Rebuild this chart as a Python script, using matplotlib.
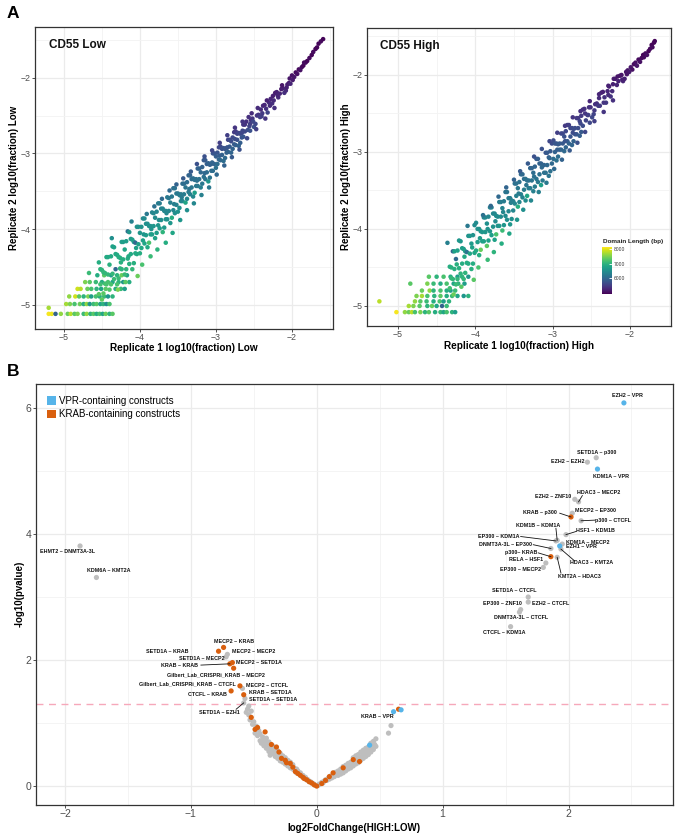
import matplotlib
matplotlib.use("Agg")
import matplotlib.pyplot as plt
from matplotlib.patches import Patch
from matplotlib.ticker import MultipleLocator
import numpy as np

plt.rcParams['font.family'] = ['Liberation Sans', 'DejaVu Sans']

# ---------------- Panel A data: CD55 Low ----------------
low_x = [
    -5.20,-5.16,-5.11,-5.04,-4.95,-4.91,-4.86,-4.82,-4.74,-4.70,-4.65,-4.61,-4.57,-4.53,-4.49,-4.45,-4.40,-4.36,
    -5.20,
    -4.97,-4.92,-4.86,-4.79,-4.74,-4.70,-4.66,-4.61,-4.57,-4.52,-4.48,-4.44,-4.40,
    -4.93,-4.85,-4.80,-4.74,-4.68,-4.64,-4.58,-4.53,-4.47,-4.42,-4.36,
    -4.82,-4.78,-4.69,-4.64,-4.57,-4.51,-4.45,-4.32,-4.25,-4.20,
    -4.72,-4.66,-4.58,-4.50,-4.42,-4.36,-4.28,-4.22,-4.14,
    -4.67,-4.56,-4.47,-4.38,-4.30,-4.24,-4.17,
    -4.54,-4.54,-4.52,-4.52,-4.50,-4.50,-4.48,-4.48,-4.46,-4.46,
    -4.44,-4.44,-4.42,-4.42,-4.40,-4.40,-4.38,-4.38,-4.36,-4.36,
    -4.34,-4.34,-4.32,-4.32,-4.30,-4.30,-4.28,-4.28,-4.26,-4.26,
    -4.24,-4.24,-4.22,-4.22,-4.20,-4.20,-4.18,-4.18,-4.16,-4.16,
    -4.14,-4.14,-4.12,-4.12,-4.10,-4.10,-4.08,-4.08,-4.06,-4.06,
    -4.04,-4.04,-4.02,-4.02,
    -4.00,-4.00,-3.98,-3.98,-3.96,-3.96,-3.94,-3.94,-3.92,-3.92,
    -3.90,-3.90,-3.88,-3.88,-3.86,-3.86,-3.84,-3.84,-3.82,-3.82,
    -3.80,-3.80,-3.78,-3.78,-3.76,-3.76,-3.74,-3.74,-3.72,-3.72,
    -3.70,-3.70,-3.68,-3.68,-3.66,-3.66,-3.64,-3.64,-3.62,-3.62,
    -3.60,-3.60,-3.58,-3.58,-3.56,-3.56,-3.54,-3.54,-3.52,-3.52,
    -3.50,-3.50,-3.48,-3.48,-3.46,-3.46,-3.44,-3.44,-3.42,-3.42,
    -3.40,-3.40,-3.38,-3.38,-3.36,-3.36,-3.34,-3.34,-3.32,-3.32,
    -3.30,-3.30,-3.28,-3.28,-3.26,-3.26,-3.24,-3.24,-3.22,-3.22,
    -3.20,-3.20,-3.18,-3.18,-3.16,-3.16,-3.14,-3.14,-3.12,-3.12,
    -3.10,-3.10,-3.08,-3.08,-3.06,-3.06,-3.04,-3.04,-3.02,-3.02,
    -3.00,-3.00,-2.98,-2.98,-2.96,-2.96,-2.94,-2.94,-2.92,-2.92,
    -2.90,-2.90,-2.88,-2.88,-2.86,-2.86,-2.84,-2.84,-2.82,-2.82,
    -2.80,-2.80,-2.78,-2.78,-2.76,-2.76,-2.74,-2.74,-2.72,-2.72,
    -2.70,-2.70,-2.68,-2.68,-2.66,-2.66,-2.64,-2.64,-2.62,-2.62,
    -2.60,-2.58,-2.56,-2.54,-2.52,-2.50,-2.48,-2.46,-2.44,-2.42,
    -2.40,-2.38,-2.36,-2.34,-2.32,-2.30,-2.57,-2.51,-2.45,-2.39,
    -2.33,-2.55,
    -2.28,-2.26,-2.24,-2.22,-2.20,-2.18,-2.16,-2.14,-2.12,-2.10,
    -2.08,-2.06,-2.04,-2.02,-2.25,-2.19,-2.13,-2.07,-2.03,
    -2.00,-1.99,-1.97,-1.95,-1.93,-1.91,-1.89,-1.87,-1.85,-1.84,
    -1.82,-1.80,-1.77,-1.74,-1.72,-1.69,-1.67,-1.65,-1.62,-1.59,
    -4.37,-4.29,-4.19,-4.11,-4.03,-3.97,-3.91,-3.86,-3.81,-3.77,
    -3.71,-3.66,-3.61,-3.57,-3.52,-3.47,-3.43,-3.38,-3.33,-3.29,
    -3.25,-3.19,-3.15,-3.09,-3.05,-2.99,-2.95,-2.89,-2.85,-2.79,
    -2.75,-2.69,-2.65,-2.59,-2.53,-2.47,-2.41,-2.35,-2.29,-2.23,
    -4.25,-4.15,-4.05,-3.95,-3.85,-3.75,-3.65,-3.55,-3.45,-3.35,
    -3.25,-3.15,-3.05,-2.95,-2.85,-2.75,-2.65,-2.55,
]
low_y = [
    -5.12,-5.12,-5.12,-5.12,-5.12,-5.12,-5.12,-5.12,-5.12,-5.12,-5.12,-5.12,-5.12,-5.12,-5.12,-5.12,-5.12,-5.12,
    -5.04,
    -4.99,-4.99,-4.99,-4.99,-4.99,-4.99,-4.99,-4.99,-4.99,-4.99,-4.99,-4.99,-4.99,
    -4.89,-4.89,-4.89,-4.89,-4.89,-4.89,-4.89,-4.89,-4.89,-4.89,-4.89,
    -4.79,-4.79,-4.79,-4.79,-4.79,-4.79,-4.79,-4.79,-4.79,-4.79,
    -4.70,-4.70,-4.70,-4.70,-4.70,-4.70,-4.70,-4.70,-4.70,
    -4.58,-4.61,-4.61,-4.61,-4.61,-4.61,-4.61,
    -4.44,-4.86,-4.73,-4.53,-4.54,-4.93,-4.85,-4.57,-4.58,-4.72,
    -4.73,-4.37,-4.37,-4.60,-4.80,-4.47,-4.36,-4.73,-4.59,-4.23,
    -4.24,-4.66,-4.53,-4.33,-4.34,-4.73,-4.65,-4.37,-4.38,-4.52,
    -4.53,-4.17,-4.17,-4.40,-4.60,-4.27,-4.16,-4.53,-4.39,-4.03,
    -4.04,-4.46,-4.33,-4.13,-4.14,-4.53,-4.45,-4.17,-4.18,-4.32,
    -4.33,-3.97,-3.97,-4.20,
    -4.32,-4.05,-3.97,-4.25,-4.15,-3.86,-3.86,-4.19,-4.08,-3.93,
    -3.93,-4.24,-4.18,-3.96,-3.96,-4.07,-4.07,-3.78,-3.79,-3.96,
    -4.12,-3.85,-3.77,-4.05,-3.95,-3.66,-3.66,-3.99,-3.88,-3.73,
    -3.73,-4.04,-3.98,-3.76,-3.76,-3.87,-3.87,-3.58,-3.59,-3.76,
    -3.92,-3.65,-3.57,-3.85,-3.75,-3.46,-3.46,-3.79,-3.68,-3.53,
    -3.53,-3.77,-3.72,-3.55,-3.54,-3.63,-3.63,-3.40,-3.40,-3.54,
    -3.65,-3.45,-3.38,-3.60,-3.51,-3.29,-3.29,-3.54,-3.45,-3.34,
    -3.33,-3.57,-3.52,-3.35,-3.34,-3.43,-3.43,-3.20,-3.20,-3.34,
    -3.45,-3.25,-3.18,-3.40,-3.31,-3.09,-3.09,-3.34,-3.25,-3.14,
    -3.13,-3.37,-3.32,-3.15,-3.14,-3.23,-3.23,-3.00,-3.00,-3.14,
    -3.19,-3.04,-2.99,-3.14,-3.08,-2.92,-2.91,-3.09,-3.02,-2.94,
    -2.93,-3.10,-3.06,-2.94,-2.93,-2.99,-2.98,-2.82,-2.82,-2.91,
    -2.99,-2.84,-2.79,-2.94,-2.88,-2.72,-2.71,-2.89,-2.82,-2.74,
    -2.73,-2.90,-2.86,-2.74,-2.73,-2.79,-2.78,-2.62,-2.62,-2.71,
    -2.58,-2.69,-2.64,-2.56,-2.54,-2.65,-2.61,-2.50,-2.49,-2.52,
    -2.51,-2.37,-2.36,-2.41,-2.46,-2.33,-2.52,-2.58,-2.40,-2.47,
    -2.30,-2.70,
    -2.28,-2.34,-2.30,-2.20,-2.19,-2.26,-2.21,-2.15,-2.14,-2.20,
    -2.17,-2.09,-2.07,-2.08,-2.24,-2.23,-2.10,-2.13,-2.01,
    -1.97,-2.03,-1.99,-1.93,-1.95,-1.89,-1.90,-1.86,-1.84,-1.80,
    -1.80,-1.78,-1.74,-1.70,-1.66,-1.62,-1.60,-1.55,-1.52,-1.49,
    -4.12,-4.80,-4.70,-3.90,-4.62,-4.47,-3.80,-4.36,-3.70,-4.27,
    -3.60,-4.18,-3.49,-4.05,-3.41,-3.88,-3.33,-3.75,-3.24,-3.66,
    -3.14,-3.55,-3.04,-3.45,-2.96,-3.28,-2.86,-3.16,-2.76,-3.05,
    -2.66,-2.95,-2.58,-2.80,-2.47,-2.68,-2.42,-2.54,-2.37,-2.40,
    -4.44,-4.36,-4.25,-4.07,-4.00,-3.88,-3.79,-3.67,-3.58,-3.47,
    -3.36,-3.26,-3.12,-3.03,-2.92,-2.81,-2.70,-2.61,
]
low_len = [
    8100,8050,5900,7600,7400,7800,7300,7500,7100,7600,7000,7300,6900,7200,6800,7400,7000,7300,
    7700,
    7700,7500,7200,7400,6900,7600,6600,7100,7300,6800,7000,6500,7200,
    7600,7900,7300,7000,7500,6700,7200,6900,7100,6600,7000,
    7900,7800,7400,7200,7000,6800,7300,6900,7100,6700,
    7500,7300,7100,6900,7200,6800,7000,6600,6900,
    7100,6900,7300,6700,7000,7400,6800,
    6900,7300,7150,7000,7000,7350,7300,7050,7050,7150,
    7200,6850,6850,7050,7250,6950,6850,7200,7050,6750,
    6750,7100,6000,6850,6850,7200,7100,6900,6900,7000,
    7000,6700,6700,6900,7100,6800,6700,7000,6900,6100,
    6600,6950,6850,6650,6700,7050,6950,6700,6000,6850,
    6850,6550,6550,6750,
    6900,6600,6550,6850,6750,6400,6450,6800,6700,6500,
    6500,6850,7200,6550,6550,6700,6700,6350,6400,6600,
    6750,6450,6400,6700,6600,6250,6250,6650,6500,6350,
    6350,7000,6650,6400,6400,6550,6550,6200,6200,6400,
    6600,6300,6200,6900,6400,6100,6100,6500,6350,6200,
    6200,6550,6500,6250,6250,6350,6400,6050,6050,6250,
    6800,6150,6050,6400,6250,5950,5950,6300,6200,6050,
    6050,6400,6700,6100,6100,6200,6200,5900,5900,6100,
    6300,6000,5900,6200,6100,5800,5800,6150,6050,5850,
    5900,6600,6150,5900,5900,6050,6050,5750,5750,5950,
    6100,5850,5750,6050,5950,5600,5600,6000,5900,5700,
    5700,6050,6000,5750,5750,5900,5900,5550,5600,5800,
    5950,5650,5600,5900,5800,5450,5450,5850,5700,5550,
    5550,5900,5850,5600,5600,5750,5750,5400,5400,5600,
    5350,5650,5550,5400,5400,5700,5600,5400,5400,5500,
    5500,5250,5250,5350,5550,5300,5350,5600,5300,5450,
    5200,5700,
    5250,5350,5300,5150,5200,5300,5250,5150,5200,5350,
    5300,5200,5150,5250,5200,5250,5100,5200,5100,
    5050,5150,5100,5000,5050,5000,5050,5000,4950,5000,
    5000,4950,5000,4950,5000,4950,4950,4950,5000,4950,
    6500,7500,7300,6300,7400,7200,6200,7100,6100,7000,
    6000,6900,6000,6800,5900,6600,5800,6500,5800,6400,
    5700,6300,5700,6200,5600,6000,5500,5900,5500,5800,
    5400,5700,5400,5600,5300,5500,5300,5400,5300,5350,
    6950,6850,6750,6600,6550,6450,6400,6300,6250,6150,
    6100,6000,5950,5850,5750,5650,5600,5500,
]

# ---------------- Panel A data: CD55 High ----------------
high_x = [
    -5.02,-4.91,-4.86,-4.82,-4.78,-4.71,-4.65,-4.60,-4.52,-4.45,-4.41,-4.37,-4.30,-4.26,
    -4.86,-4.80,-4.72,-4.62,-4.56,-4.50,-4.43,-4.37,
    -5.24,-4.78,-4.71,-4.63,-4.54,-4.46,-4.41,-4.34,
    -4.76,-4.69,-4.62,-4.53,-4.45,-4.37,-4.30,-4.23,-4.15,-4.09,
    -4.69,-4.59,-4.54,-4.45,-4.37,-4.32,-4.26,
    -4.84,-4.62,-4.54,-4.45,-4.37,-4.28,-4.22,-4.14,
    -4.60,-4.50,-4.41,-4.32,-4.23,-4.17,-4.09,
    -4.33,-4.33,-4.31,-4.31,-4.29,-4.29,-4.27,-4.27,-4.25,-4.25,
    -4.23,-4.23,-4.21,-4.21,-4.19,-4.19,-4.17,-4.17,-4.15,-4.15,
    -4.13,-4.13,-4.11,-4.11,-4.09,-4.09,-4.07,-4.07,-4.05,-4.05,
    -4.03,-4.03,-4.01,-4.01,
    -3.99,-3.99,-3.97,-3.97,-3.95,-3.95,-3.93,-3.93,-3.91,-3.91,
    -3.89,-3.89,-3.87,-3.87,-3.85,-3.85,-3.83,-3.83,-3.81,-3.81,
    -3.79,-3.79,-3.77,-3.77,-3.75,-3.75,-3.73,-3.73,-3.71,-3.71,
    -3.69,-3.69,-3.67,-3.67,-3.65,-3.65,-3.63,-3.63,-3.61,-3.61,
    -3.59,-3.59,-3.57,-3.57,-3.55,-3.55,-3.53,-3.53,-3.51,-3.51,
    -3.49,-3.49,-3.47,-3.47,-3.45,-3.45,-3.43,-3.43,-3.41,-3.41,
    -3.39,-3.39,-3.37,-3.37,-3.35,-3.35,-3.33,-3.33,-3.31,-3.31,
    -3.29,-3.29,-3.27,-3.27,-3.25,-3.25,-3.23,-3.23,-3.21,-3.21,
    -3.19,-3.19,-3.17,-3.17,-3.15,-3.15,-3.13,-3.13,-3.11,-3.11,
    -3.09,-3.09,-3.07,-3.07,-3.05,-3.05,-3.03,-3.03,-3.01,-3.01,
    -2.99,-2.99,-2.97,-2.97,-2.95,-2.95,-2.93,-2.93,-2.91,-2.91,
    -2.89,-2.89,-2.87,-2.87,-2.85,-2.85,-2.83,-2.83,-2.81,-2.81,
    -2.79,-2.79,-2.77,-2.77,-2.75,-2.75,-2.73,-2.73,-2.71,-2.71,
    -2.69,-2.69,-2.67,-2.67,-2.65,-2.65,-2.63,-2.63,-2.61,-2.61,
    -2.59,-2.57,-2.55,-2.53,-2.51,-2.49,-2.47,-2.45,-2.43,-2.41,
    -2.39,-2.37,-2.35,-2.33,-2.31,-2.29,-2.27,-2.25,-2.23,-2.21,
    -2.58,-2.52,-2.46,-2.40,-2.34,-2.28,-2.22,
    -2.19,-2.17,-2.15,-2.13,-2.11,-2.09,-2.07,-2.05,-2.03,-2.01,
    -2.16,-2.10,-2.04,
    -1.99,-1.97,-1.95,-1.93,-1.91,-1.89,-1.87,-1.85,-1.83,-1.82,
    -1.80,-1.78,-1.76,-1.74,-1.72,-1.71,-1.69,-1.68,
    -4.36,-4.28,-4.18,-4.10,-4.02,-3.96,-3.90,-3.84,-3.80,-3.76,
    -3.70,-3.66,-3.60,-3.56,-3.50,-3.46,-3.42,-3.38,-3.32,-3.28,
    -3.24,-3.18,-3.14,-3.08,-3.04,-2.98,-2.94,-2.88,-2.84,-2.78,
    -2.74,-2.68,-2.64,-2.58,-2.52,-2.46,-2.40,-2.34,-2.28,-2.22,
    -4.24,-4.14,-4.04,-3.94,-3.84,-3.74,-3.64,-3.54,-3.44,-3.34,
    -3.24,-3.14,-3.04,-2.94,-2.84,-2.74,-2.64,-2.54,
]
high_y = [
    -5.08,-5.08,-5.08,-5.08,-5.08,-5.08,-5.08,-5.08,-5.08,-5.08,-5.08,-5.08,-5.08,-5.08,
    -5.00,-5.00,-5.00,-5.00,-5.00,-5.00,-5.00,-5.00,
    -4.94,-4.94,-4.94,-4.94,-4.94,-4.94,-4.94,-4.94,
    -4.87,-4.87,-4.87,-4.87,-4.87,-4.87,-4.87,-4.87,-4.87,-4.87,
    -4.80,-4.80,-4.80,-4.80,-4.80,-4.80,-4.80,
    -4.71,-4.71,-4.71,-4.71,-4.71,-4.71,-4.71,-4.71,
    -4.62,-4.62,-4.62,-4.62,-4.62,-4.62,-4.62,
    -4.77,-4.49,-4.50,-4.64,-4.65,-4.29,-4.29,-4.52,-4.72,-4.39,
    -4.28,-4.65,-4.51,-4.15,-4.16,-4.58,-4.45,-4.25,-4.26,-4.65,
    -4.57,-4.29,-4.30,-4.44,-4.45,-4.09,-4.09,-4.32,-4.52,-4.19,
    -4.08,-4.45,-4.31,-3.95,
    -3.92,-4.28,-4.17,-4.00,-4.00,-4.34,-4.27,-4.03,-4.04,-4.16,
    -4.16,-3.85,-3.85,-4.04,-4.22,-3.93,-3.84,-4.15,-4.03,-3.72,
    -3.72,-4.08,-3.97,-3.80,-3.80,-4.14,-4.07,-3.83,-3.84,-3.96,
    -3.96,-3.65,-3.65,-3.84,-4.02,-3.73,-3.64,-3.95,-3.83,-3.52,
    -3.52,-3.88,-3.77,-3.60,-3.60,-3.94,-3.87,-3.63,-3.64,-3.76,
    -3.67,-3.41,-3.41,-3.57,-3.71,-3.47,-3.39,-3.65,-3.55,-3.29,
    -3.29,-3.59,-3.49,-3.35,-3.35,-3.63,-3.57,-3.37,-3.37,-3.47,
    -3.47,-3.21,-3.21,-3.37,-3.51,-3.27,-3.19,-3.45,-3.35,-3.09,
    -3.09,-3.39,-3.29,-3.15,-3.15,-3.43,-3.37,-3.17,-3.17,-3.27,
    -3.27,-3.01,-3.01,-3.17,-3.31,-3.07,-2.99,-3.25,-3.15,-2.89,
    -2.85,-3.09,-3.00,-2.89,-2.89,-3.11,-3.06,-2.90,-2.89,-2.97,
    -2.97,-2.76,-2.76,-2.89,-2.99,-2.80,-2.73,-2.94,-2.86,-2.65,
    -2.65,-2.89,-2.80,-2.69,-2.69,-2.91,-2.86,-2.70,-2.69,-2.77,
    -2.77,-2.56,-2.56,-2.69,-2.79,-2.60,-2.53,-2.74,-2.66,-2.45,
    -2.44,-2.59,-2.52,-2.42,-2.42,-2.55,-2.51,-2.38,-2.37,-2.40,
    -2.40,-2.23,-2.22,-2.29,-2.36,-2.21,-2.15,-2.28,-2.21,-2.05,
    -2.50,-2.62,-2.46,-2.30,-2.36,-2.26,-2.12,
    -2.05,-2.13,-2.08,-2.01,-2.00,-2.08,-2.05,-1.96,-1.94,-1.96,
    -2.02,-2.06,-1.99,
    -1.90,-1.93,-1.86,-1.84,-1.88,-1.80,-1.83,-1.78,-1.74,-1.77,
    -1.72,-1.74,-1.69,-1.66,-1.61,-1.64,-1.58,-1.56,
    -4.18,-4.85,-4.75,-3.96,-4.66,-4.50,-3.82,-4.40,-3.70,-4.30,
    -3.58,-4.19,-3.46,-4.06,-3.36,-3.88,-3.25,-3.75,-3.15,-3.63,
    -3.06,-3.52,-2.96,-3.40,-2.86,-3.22,-2.75,-3.10,-2.66,-2.98,
    -2.55,-2.88,-2.47,-2.74,-2.34,-2.60,-2.25,-2.48,-2.14,-2.33,
    -4.46,-4.36,-4.24,-4.12,-4.00,-3.90,-3.78,-3.66,-3.54,-3.43,
    -3.32,-3.20,-3.08,-2.97,-2.86,-2.75,-2.63,-2.52,
]
high_len = [
    8100,7600,7400,7800,7200,7500,7000,7300,6900,7100,6800,7200,7000,6700,
    7700,7500,7300,7000,7400,6800,5900,7100,
    7800,7600,7300,7100,6900,7200,6700,7000,
    7500,7700,7200,7000,7300,6900,7100,6800,6600,7000,
    7400,7600,7000,7200,6900,6700,7100,
    7300,7500,7100,6900,7200,6800,7000,6700,
    7300,7000,7200,6900,6700,7000,6600,
    7150,6900,6950,7050,7050,5900,6750,6950,7100,6000,
    6750,7050,6950,6600,6600,7000,6900,6700,6700,7050,
    7000,6750,6100,6900,6900,6550,6600,6800,6950,6650,
    6550,6900,6800,6450,
    6450,6850,6700,6550,6550,6900,7400,6600,6600,6750,
    6750,6400,6400,6600,7300,6500,6400,6750,6600,6300,
    6300,6700,6550,6400,6400,6750,7200,6450,6450,6550,
    6600,6250,6250,6450,7100,6350,6250,6600,6450,6150,
    6150,6500,6400,6250,6250,6600,6500,6300,6300,6400,
    6400,6100,6100,6300,6900,6200,6100,6400,6300,6000,
    6000,6350,6250,6050,6100,6450,6800,6100,6100,6250,
    6250,5950,5950,6150,6300,6050,5950,6250,6150,5800,
    5850,6200,6100,5900,5900,6700,6200,5950,5950,6100,
    6100,5750,5800,6000,6150,5850,5800,6100,6000,5650,
    5650,6050,5900,5750,5750,6100,6050,5800,5800,5950,
    5950,5600,5600,5800,6000,5700,5600,5950,5800,5500,
    5500,5900,5750,5600,5600,5950,5900,5650,5650,5750,
    5750,5450,5450,5650,5850,5550,5450,5800,5650,5350,
    5350,5550,5450,5350,5350,5600,5550,5350,5350,5450,
    5450,5200,5200,5350,5450,5250,5200,5400,5300,5150,
    5400,5600,5450,5300,5400,5300,5200,
    5150,5250,5200,5100,5100,5250,5200,5100,5100,5150,
    5100,5200,5100,
    5100,5050,5000,5050,5100,5000,5050,5000,4950,5000,
    5000,5050,4950,5000,4950,5000,4950,4950,
    6300,7400,7300,6200,7300,7200,6100,7100,6000,7000,
    6000,6900,5950,6800,5900,6600,5800,6500,5800,6400,
    5700,6300,5700,6200,5600,6000,5500,5900,5450,5800,
    5400,5700,5350,5600,5250,5500,5250,5400,5200,5350,
    6950,6850,6750,6650,6550,6450,6400,6300,6250,6150,
    6100,6000,5950,5850,5750,5650,5600,5500,
]

# ---------------- Panel B data: volcano ----------------
gray_fc = [
    -0.56,-0.55,-0.54,-0.54,-0.53,-0.52,-0.51,-0.50,-0.49,-0.48,
    -0.47,-0.46,-0.45,-0.45,-0.44,-0.43,-0.42,-0.42,-0.41,-0.40,
    -0.40,-0.39,-0.38,-0.38,-0.37,-0.37,-0.36,-0.35,-0.35,-0.34,
    -0.33,-0.33,-0.32,-0.31,-0.31,-0.30,-0.29,-0.29,-0.28,-0.27,
    -0.27,-0.26,-0.25,-0.25,-0.24,-0.23,-0.23,-0.22,-0.21,-0.21,
    -0.20,-0.19,-0.19,-0.18,-0.17,-0.16,-0.16,-0.15,-0.14,-0.13,
    -0.12,-0.11,-0.10,-0.09,-0.08,-0.07,-0.06,-0.05,-0.04,-0.03,
    -0.02,-0.01,
    0.01,0.02,0.03,0.04,0.05,0.06,0.07,0.08,0.09,0.10,
    0.11,0.12,0.13,0.14,0.15,0.16,0.17,0.17,0.18,0.19,
    0.19,0.20,0.21,0.21,0.22,0.23,0.23,0.24,0.25,0.25,
    0.26,0.27,0.27,0.28,0.29,0.29,0.30,0.31,0.31,0.32,
    0.33,0.33,0.34,0.35,0.35,0.36,0.37,0.37,0.38,0.39,
    0.39,0.40,0.41,0.41,0.42,0.43,0.43,0.44,0.45,0.45,
    0.46,0.47,0.47,0.57,0.59,
]
gray_p = [
    1.17,1.22,1.27,1.13,1.05,1.19,0.98,1.02,0.84,0.95,
    0.80,0.88,0.72,0.83,0.68,0.78,0.64,0.74,0.70,0.60,
    0.76,0.66,0.55,0.70,0.49,0.62,0.58,0.52,0.64,0.56,
    0.47,0.60,0.52,0.44,0.56,0.48,0.40,0.52,0.46,0.38,
    0.48,0.42,0.35,0.45,0.39,0.32,0.41,0.36,0.29,0.38,
    0.33,0.27,0.34,0.29,0.24,0.27,0.21,0.24,0.19,0.21,
    0.16,0.17,0.13,0.14,0.10,0.10,0.07,0.07,0.05,0.04,
    0.03,0.01,
    0.01,0.03,0.04,0.06,0.05,0.08,0.10,0.09,0.12,0.11,
    0.16,0.13,0.17,0.15,0.22,0.19,0.24,0.17,0.21,0.27,
    0.19,0.24,0.31,0.21,0.27,0.33,0.24,0.29,0.36,0.27,
    0.31,0.38,0.29,0.34,0.45,0.32,0.37,0.48,0.35,0.41,
    0.50,0.37,0.44,0.54,0.41,0.47,0.57,0.44,0.51,0.60,
    0.47,0.55,0.62,0.50,0.57,0.68,0.54,0.62,0.71,0.58,
    0.66,0.75,0.63,0.84,0.96,
]
krab_fc = [-0.52,-0.49,-0.47,-0.41,-0.36,-0.32,-0.30,-0.28,-0.25,-0.24,
           -0.21,-0.19,-0.17,-0.15,-0.13,-0.11,-0.10,-0.08,-0.06,-0.04,
           -0.02,0.00,0.04,0.07,0.10,0.13,0.21,0.29,0.34]
krab_p = [1.09,0.90,0.93,0.86,0.66,0.62,0.54,0.44,0.41,0.37,
          0.36,0.30,0.23,0.20,0.17,0.14,0.12,0.10,0.07,0.05,
          0.02,0.00,0.04,0.09,0.15,0.21,0.29,0.42,0.39]
vpr_fc = [0.42, 0.61, 0.67]
vpr_p = [0.65, 1.18, 1.21]

lab_name = ["EZH2 – VPR", "SETD1A – p300", "EZH2 – EZH2", "KDM1A – VPR", "EZH2 – ZNF10",
            "HDAC3 – MECP2", "KRAB – p300", "MECP2 – EP300", "p300 – CTCFL", "KDM1B – KDM1A",
            "HSF1 – KDM1B", "EP300 – KDM1A", "KDM1A – MECP2", "EZH1 – VPR", "DNMT3A-3L – EP300",
            "p300– KRAB", "RELA – HSF1", "EP300 – MECP2", "HDAC3 – KMT2A", "KMT2A – HDAC3",
            "SETD1A – CTCFL", "EZH2 – CTCFL", "EP300 – ZNF10", "DNMT3A-3L – CTCFL", "CTCFL – KDM1A",
            "EHMT2 – DNMT3A-3L", "KDM6A – KMT2A", "MECP2 – KRAB", "SETD1A – KRAB", "MECP2 – MECP2",
            "SETD1A – MECP2", "KRAB – KRAB", "MECP2 – SETD1A", "Gilbert_Lab_CRISPRi_KRAB – MECP2",
            "Gilbert_Lab_CRISPRi_KRAB – CTCFL", "MECP2 – CTCFL", "CTCFL – KRAB", "KRAB – SETD1A",
            "SETD1A – SETD1A", "SETD1A – EZH1", "KRAB – VPR"]
lab_fc = [2.44, 2.22, 2.15, 2.23, 2.05, 2.08, 2.02, 2.03, 2.10, 1.91,
          1.98, 1.90, 1.95, 1.93, 1.86, 1.86, 1.82, 1.80, 1.94, 1.91,
          1.68, 1.68, 1.62, 1.61, 1.54, -1.88, -1.75, -0.74, -0.78, -0.71,
          -0.72, -0.69, -0.67, -0.66, -0.61, -0.59, -0.68, -0.58, -0.57, -0.58, 0.65]
lab_p = [6.08, 5.21, 5.14, 5.03, 4.55, 4.51, 4.27, 4.33, 4.21, 3.90,
         3.99, 3.89, 3.84, 3.81, 3.77, 3.64, 3.54, 3.47, 3.76, 3.63,
         3.00, 2.92, 2.80, 2.76, 2.53, 3.81, 3.31, 2.20, 2.14, 2.09,
         2.05, 1.94, 1.96, 1.87, 1.59, 1.55, 1.51, 1.45, 1.39, 1.32, 1.22]
lab_group = ["vpr", "gray", "gray", "vpr", "gray", "gray", "krab", "gray", "gray", "gray",
             "gray", "gray", "gray", "vpr", "gray", "krab", "gray", "gray", "gray", "gray",
             "gray", "gray", "gray", "gray", "gray", "gray", "gray", "krab", "krab", "gray",
             "gray", "krab", "krab", "krab", "krab", "gray", "krab", "krab", "gray", "gray", "krab"]

# label placement (layout only): (x, y, ha, leader line end or None)
lab_layout = [
    (2.47, 6.19, 'center', None), (2.22, 5.30, 'center', None), (2.13, 5.15, 'right', None),
    (2.34, 4.92, 'center', None), (2.02, 4.60, 'right', None), (2.07, 4.66, 'left', (2.11, 4.61)),
    (1.91, 4.34, 'right', (1.93, 4.33)), (2.05, 4.37, 'left', None), (2.21, 4.22, 'left', (2.21, 4.22)),
    (1.76, 4.13, 'center', (1.90, 4.09)), (2.06, 4.05, 'left', (2.06, 4.04)),
    (1.61, 3.96, 'right', (1.62, 3.96)), (1.98, 3.87, 'left', None), (1.98, 3.80, 'left', None),
    (1.71, 3.84, 'right', (1.72, 3.83)), (1.75, 3.70, 'right', (1.76, 3.70)),
    (1.80, 3.59, 'right', None), (1.78, 3.43, 'right', None), (2.01, 3.54, 'left', (2.05, 3.57)),
    (2.09, 3.32, 'center', (1.94, 3.38)), (1.57, 3.10, 'center', None), (1.71, 2.89, 'left', None),
    (1.63, 2.89, 'right', None), (1.62, 2.68, 'center', None), (1.49, 2.44, 'center', None),
    (-1.98, 3.72, 'center', None), (-1.65, 3.42, 'center', None), (-0.66, 2.29, 'center', None),
    (-1.02, 2.14, 'right', None), (-0.67, 2.14, 'left', None), (-0.73, 2.03, 'right', None),
    (-0.94, 1.92, 'right', (-0.92, 1.92)), (-0.64, 1.96, 'left', None), (-0.80, 1.77, 'center', None),
    (-0.64, 1.62, 'right', None), (-0.56, 1.59, 'left', None), (-0.71, 1.46, 'right', None),
    (-0.54, 1.48, 'left', None), (-0.54, 1.37, 'left', None), (-0.77, 1.17, 'center', (-0.64, 1.22)),
    (0.48, 1.10, 'center', None),
]

GRAY_C = '#BEBEBE'
KRAB_C = '#D95F0E'
VPR_C = '#56B4E9'
W, H = 676, 839

fig = plt.figure(figsize=(W / 100, H / 100), dpi=100)


def style(ax, fs):
    ax.set_facecolor('white')
    for s in ax.spines.values():
        s.set_color('#333333')
        s.set_linewidth(0.9)
    ax.grid(which='major', color='#EBEBEB', lw=0.9)
    ax.grid(which='minor', color='#F3F3F3', lw=0.6)
    ax.set_axisbelow(True)
    ax.tick_params(which='major', length=2.3, width=0.6, color='#333333',
                   labelsize=fs, labelcolor='#4D4D4D', pad=0.8)
    ax.tick_params(which='minor', length=0)


def px_rect(l, t, r, b):
    return [l / W, 1 - b / H, (r - l) / W, (b - t) / H]


# ---- Panel A ----
axL = fig.add_axes(px_rect(35, 27, 333, 329))
axR = fig.add_axes(px_rect(367, 28, 671, 326))
norm_kw = dict(cmap='viridis', vmin=4900, vmax=8140, s=10.5, edgecolors='none')
axL.scatter(low_x, low_y, c=low_len, **norm_kw)
sc = axR.scatter(high_x, high_y, c=high_len, **norm_kw)
axL.set_xlim(-5.38, -1.46); axL.set_ylim(-5.32, -1.33)
axR.set_xlim(-5.40, -1.47); axR.set_ylim(-5.26, -1.39)
for ax in (axL, axR):
    ax.xaxis.set_major_locator(MultipleLocator(1))
    ax.yaxis.set_major_locator(MultipleLocator(1))
    ax.xaxis.set_minor_locator(MultipleLocator(0.5))
    ax.yaxis.set_minor_locator(MultipleLocator(0.5))
    style(ax, 6.3)
axL.text(0.047, 0.94, 'CD55 Low', transform=axL.transAxes, fontsize=8.5,
         weight='bold', va='center', ha='left', color='#111111')
axR.text(0.043, 0.94, 'CD55 High', transform=axR.transAxes, fontsize=8.5,
         weight='bold', va='center', ha='left', color='#111111')

fig.text(184 / W, 1 - 348 / H, 'Replicate 1 log10(fraction) Low', ha='center', va='center',
         fontsize=7.2, weight='bold')
fig.text(519 / W, 1 - 346 / H, 'Replicate 1 log10(fraction) High', ha='center', va='center',
         fontsize=7.2, weight='bold')
fig.text(14 / W, 1 - 178 / H, 'Replicate 2 log10(fraction) Low', ha='center', va='center',
         rotation=90, fontsize=7.0, weight='bold')
fig.text(346 / W, 1 - 177 / H, 'Replicate 2 log10(fraction) High', ha='center', va='center',
         rotation=90, fontsize=7.0, weight='bold')

cax = fig.add_axes(px_rect(602, 247, 612, 294))
cb = fig.colorbar(sc, cax=cax, ticks=[6000, 7000, 8000])
cb.outline.set_visible(False)
cax.tick_params(length=2, width=0.6, color='white', direction='in', labelsize=3.6,
                pad=1.5, labelcolor='#333333')
fig.text(603 / W, 1 - 242 / H, 'Domain Length (bp)', ha='left', va='center',
         fontsize=4.6, weight='bold', color='#222222')

fig.text(7 / W, 1 - 14 / H, 'A', fontsize=12.5, weight='bold', ha='left', va='center')
fig.text(7 / W, 1 - 372 / H, 'B', fontsize=12.5, weight='bold', ha='left', va='center')

# ---- Panel B ----
axB = fig.add_axes(px_rect(36, 384, 673, 805))
axB.set_xlim(-2.23, 2.83)
axB.set_ylim(-0.30, 6.38)
axB.xaxis.set_major_locator(MultipleLocator(1))
axB.yaxis.set_major_locator(MultipleLocator(2))
axB.xaxis.set_minor_locator(MultipleLocator(0.5))
axB.yaxis.set_minor_locator(MultipleLocator(1))
style(axB, 7.5)
axB.axhline(-np.log10(0.05), color='#F6A8BA', lw=1.0, dashes=(5, 4), zorder=1)

lab_fc_a = np.array(lab_fc); lab_p_a = np.array(lab_p); lab_g_a = np.array(lab_group)
ms = 14
axB.scatter(gray_fc, gray_p, s=ms, color=GRAY_C, edgecolors='none', zorder=2)
axB.scatter(lab_fc_a[lab_g_a == 'gray'], lab_p_a[lab_g_a == 'gray'], s=ms, color=GRAY_C,
            edgecolors='none', zorder=2)
axB.scatter(krab_fc, krab_p, s=ms, color=KRAB_C, edgecolors='none', zorder=3)
axB.scatter(lab_fc_a[lab_g_a == 'krab'], lab_p_a[lab_g_a == 'krab'], s=ms, color=KRAB_C,
            edgecolors='none', zorder=3)
axB.scatter(vpr_fc, vpr_p, s=ms, color=VPR_C, edgecolors='none', zorder=4)
axB.scatter(lab_fc_a[lab_g_a == 'vpr'], lab_p_a[lab_g_a == 'vpr'], s=ms, color=VPR_C,
            edgecolors='none', zorder=4)

for name, px, py, (lx, ly, ha, lend) in zip(lab_name, lab_fc, lab_p, lab_layout):
    if lend is not None:
        axB.plot([px, lend[0]], [py, lend[1]], color='#111111', lw=0.6, zorder=5)
    axB.text(lx, ly, name, ha=ha, va='center', fontsize=3.9, weight='bold',
             color='#111111', zorder=6)

handles = [Patch(facecolor=VPR_C, edgecolor='none', label='VPR-containing constructs'),
           Patch(facecolor=KRAB_C, edgecolor='none', label='KRAB-containing constructs')]
axB.legend(handles=handles, loc='upper left', bbox_to_anchor=(0.0165, 0.972), frameon=False,
           fontsize=7, handlelength=0.95, handleheight=0.95, handletextpad=0.35,
           labelspacing=0.35, borderpad=0, borderaxespad=0)

fig.text(354 / W, 1 - 828 / H, 'log2FoldChange(HIGH:LOW)', ha='center', va='center',
         fontsize=7, weight='bold')
fig.text(20 / W, 1 - 594 / H, '-log10(pvalue)', ha='center', va='center', rotation=90,
         fontsize=7, weight='bold')

fig.savefig('out.png', dpi=100)
